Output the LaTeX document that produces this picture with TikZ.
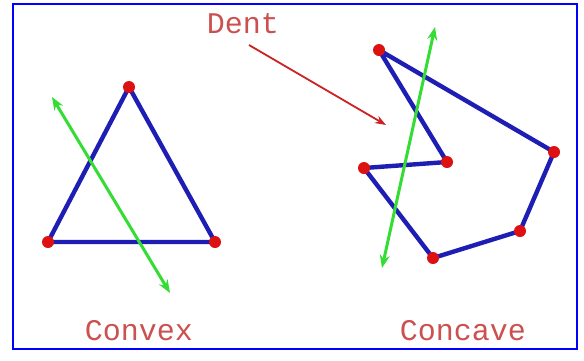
\documentclass[tikz,border=0pt]{standalone}
\usepackage{fontspec}
\setmonofont{Liberation Mono}
\usetikzlibrary{arrows.meta}
\definecolor{edgeblue}{HTML}{1E1EB4}
\definecolor{dotred}{HTML}{DD1111}
\definecolor{txtred}{HTML}{CC5050}
\definecolor{arrgreen}{HTML}{33DD33}
\definecolor{dentred}{HTML}{CC2222}
\begin{document}
\begin{tikzpicture}[x=1pt,y=-1pt,
  vtx/.style={circle,fill=dotred,inner sep=0pt,minimum size=12pt},
  edge/.style={draw=edgeblue,line width=4.4pt},
  dblarrow/.style={draw=arrgreen,line width=3pt,{Stealth[length=13pt,width=10pt]}-{Stealth[length=13pt,width=10pt]}},
  label/.style={font=\ttfamily\fontsize{30}{30}\selectfont,text=txtred,inner sep=0pt}]
\useasboundingbox (0,0) rectangle (584,360);
\fill[white] (0,0) rectangle (584,360);
\draw[blue,line width=2pt] (13,4) rectangle (577,349);
% convex triangle
\coordinate (t1) at (129,87);
\coordinate (t2) at (48,242);
\coordinate (t3) at (215,242);
\draw[edge,line join=round] (t1) -- (t2) -- (t3) -- cycle;
\coordinate (g1) at (52,97);
\coordinate (g2) at (170,293);
\draw[dblarrow] (g1) -- (g2);
\node[vtx] (v1) at (t1) {};
\node[vtx] (v2) at (t2) {};
\node[vtx] (v3) at (t3) {};
% concave polygon
\coordinate (a) at (379,50);
\coordinate (b) at (554,152);
\coordinate (c) at (520,231);
\coordinate (d) at (433,258);
\coordinate (e) at (364,168);
\coordinate (f) at (447,162);
\draw[edge,line join=round] (a) -- (b) -- (c) -- (d) -- (e) -- (f) -- cycle;
\coordinate (h1) at (435,27);
\coordinate (h2) at (382,268);
\draw[dblarrow] (h1) -- (h2);
\foreach \p in {a,b,c,d,e,f} \node[vtx] (n\p) at (\p) {};
% labels
\node[label] (dent) at (243,24) {Dent};
\coordinate (dentend) at (386,125);
\draw[dentred,line width=1.8pt,-{Stealth[length=11pt,width=8pt]}] (249,45) -- (dentend);
\node[label] (convex) at (139,331) {Convex};
\node[label] (concave) at (463,331) {Concave};
\end{tikzpicture}
\end{document}
